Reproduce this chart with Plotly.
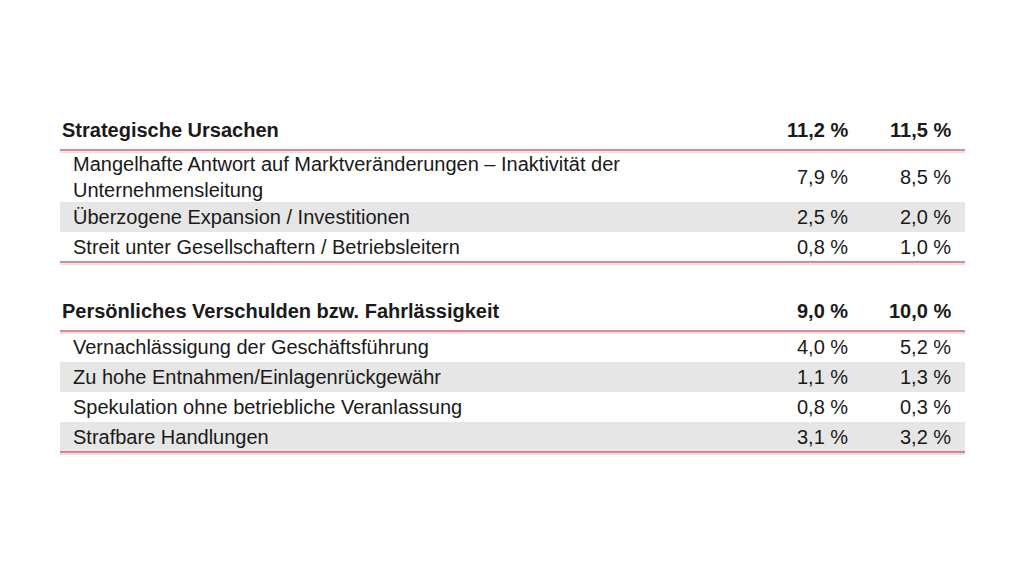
import plotly.graph_objects as go

# Data
groups = ["Strategische Ursachen", "Persönliches Verschulden bzw. Fahrlässigkeit"]
group_a = ["11,2 %", "9,0 %"]
group_b = ["11,5 %", "10,0 %"]

items = [
    ["Mangelhafte Antwort auf Marktveränderungen – Inaktivität der<br>Unternehmensleitung",
     "Überzogene Expansion / Investitionen",
     "Streit unter Gesellschaftern / Betriebsleitern"],
    ["Vernachlässigung der Geschäftsführung",
     "Zu hohe Entnahmen/Einlagenrückgewähr",
     "Spekulation ohne betriebliche Veranlassung",
     "Strafbare Handlungen"],
]
items_a = [["7,9 %", "2,5 %", "0,8 %"], ["4,0 %", "1,1 %", "0,8 %", "3,1 %"]]
items_b = [["8,5 %", "2,0 %", "1,0 %"], ["5,2 %", "1,3 %", "0,3 %", "3,2 %"]]

FONT = "Liberation Sans, Arial, sans-serif"
RED = "#c8102e"
GREY = "#e6e6e6"
DX, DY = -9, -8  # page offset correction
X0, X1 = 61 + DX, 966 + DX
COL_A, COL_B = 851 + DX, 954 + DX

fig = go.Figure()
shapes, annos = [], []


def rule(y):
    shapes.append(dict(type="line", x0=X0, x1=X1, y0=y, y1=y, line=dict(color=RED, width=1.2)))
    shapes.append(dict(type="line", x0=X0, x1=X1, y0=y + 2, y1=y + 2, line=dict(color="#c8c8c8", width=1)))


def text(x, y, s, anchor, bold=False):
    annos.append(dict(x=x, y=y, text=f"<b>{s}</b>" if bold else s, xanchor=anchor, yanchor="middle",
                      showarrow=False, align="left", font=dict(family=FONT, size=20, color="#1a1a1a")))


header_y = [130 + DY, 311 + DY]
row_ys = [[177 + DY, 217 + DY, 247 + DY], [347 + DY, 377 + DY, 407 + DY, 437 + DY]]
row_h = [[48, 30, 30], [30, 30, 30, 30]]

for g in range(len(groups)):
    hy = header_y[g]
    text(X0, hy, groups[g], "left", bold=True)
    text(COL_A, hy, group_a[g], "right", bold=True)
    text(COL_B, hy, group_b[g], "right", bold=True)
    rule(hy + 20)
    for i, label in enumerate(items[g]):
        y = row_ys[g][i]
        if i % 2 == 1:
            shapes.append(dict(type="rect", x0=X0, x1=X1, y0=y - row_h[g][i] / 2, y1=y + row_h[g][i] / 2,
                               fillcolor=GREY, line=dict(width=0), layer="below"))
        text(72 + DX, y, label, "left")
        text(COL_A, y, items_a[g][i], "right")
        text(COL_B, y, items_b[g][i], "right")
    rule(row_ys[g][-1] + 15)

fig.update_layout(
    width=1024, height=576,
    margin=dict(l=0, r=0, t=0, b=0),
    paper_bgcolor="white", plot_bgcolor="white",
    xaxis=dict(range=[0, 1024], visible=False, fixedrange=True),
    yaxis=dict(range=[576, 0], visible=False, fixedrange=True),
    shapes=shapes, annotations=annos, showlegend=False,
)

fig.write_html("out.html")
